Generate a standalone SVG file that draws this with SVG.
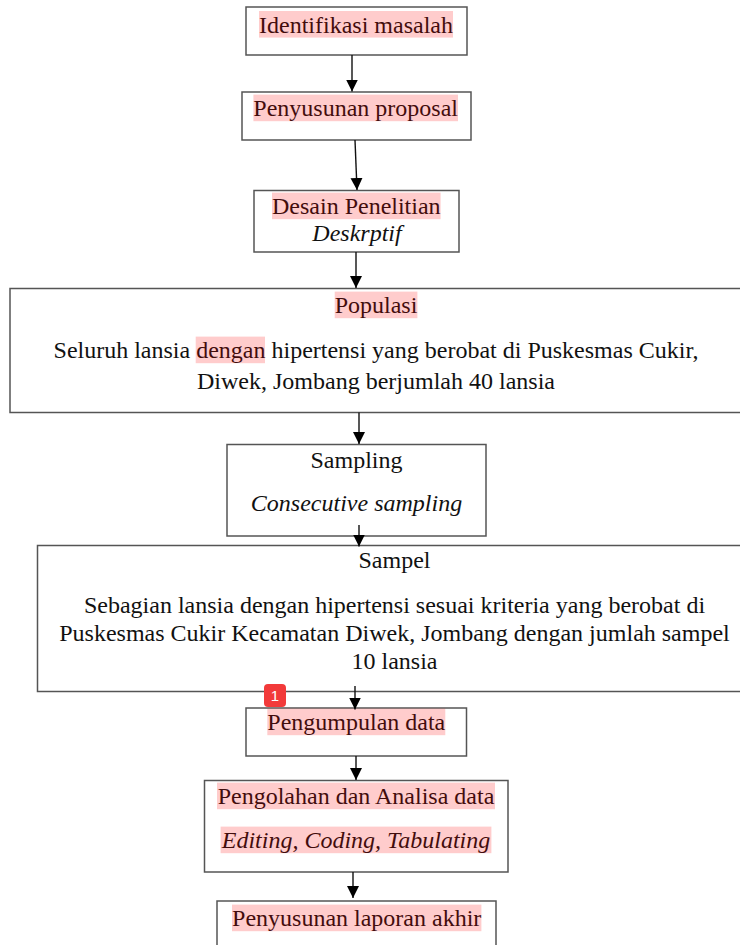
<svg xmlns="http://www.w3.org/2000/svg" width="740" height="945" viewBox="0 0 740 945">
<defs>
<marker id="ah" markerUnits="userSpaceOnUse" markerWidth="12" markerHeight="13" viewBox="0 0 12 13" refX="12" refY="6" orient="auto">
<path d="M0,0 L12,6 L0,12 Z" fill="#000"/>
</marker>
</defs>
<style>
.box{fill:#fff;stroke:#555;stroke-width:1.5}
.t{font-family:"Liberation Serif","Times New Roman",serif;font-size:24px;fill:#111;text-anchor:middle}
.i{font-style:italic}
.hl{fill:#ff0000;fill-opacity:0.2}
.c{stroke:#111;stroke-width:1.4;fill:none;marker-end:url(#ah)}
</style>
<rect width="740" height="945" fill="#fff"/>

<g id="n1">
<rect class="box" x="246" y="7" width="221" height="48"/>
<text class="t" x="356" y="32.5">Identifikasi masalah</text>
<rect class="hl" x="259" y="11" width="194" height="26.6"/>
</g>

<g id="n2">
<rect class="box" x="242" y="92" width="229" height="48"/>
<text class="t" x="355.7" y="116">Penyusunan proposal</text>
<rect class="hl" x="253.4" y="94.6" width="204.6" height="26.6"/>
</g>

<g id="n3">
<rect class="box" x="254" y="190.5" width="205" height="61.5"/>
<text class="t" x="356.3" y="214">Desain Penelitian</text>
<rect class="hl" x="272" y="192.6" width="168.6" height="26.6"/>
<text class="t i" x="357" y="241">Deskrptif</text>
</g>

<g id="n4">
<rect class="box" x="10" y="288.5" width="740" height="124"/>
<text class="t" x="376" y="313">Populasi</text>
<rect class="hl" x="334.7" y="291.6" width="82.7" height="26.6"/>
<text class="t" x="376" y="358">Seluruh lansia dengan hipertensi yang berobat di Puskesmas Cukir,</text>
<rect class="hl" x="195.7" y="336.6" width="69.3" height="26.6"/>
<text class="t" x="376" y="389">Diwek, Jombang berjumlah 40 lansia</text>
</g>

<g id="n5">
<rect class="box" x="227" y="444.5" width="259" height="91.5"/>
<text class="t" x="356.5" y="468">Sampling</text>
<text class="t i" x="356.5" y="511">Consecutive sampling</text>
</g>

<g id="n6">
<rect class="box" x="37.5" y="545.5" width="720" height="146"/>
<text class="t" x="394.5" y="568">Sampel</text>
<text class="t" x="394.5" y="613">Sebagian lansia dengan hipertensi sesuai kriteria yang berobat di</text>
<text class="t" x="394.5" y="641">Puskesmas Cukir Kecamatan Diwek, Jombang dengan jumlah sampel</text>
<text class="t" x="394.5" y="669">10 lansia</text>
</g>

<g id="n7">
<rect class="box" x="246" y="708" width="220.5" height="48"/>
<text class="t" x="356.3" y="730">Pengumpulan data</text>
<rect class="hl" x="267.3" y="708.6" width="178" height="26.6"/>
</g>

<g id="n8">
<rect class="box" x="204.5" y="780.5" width="303.5" height="91.5"/>
<text class="t" x="356" y="804">Pengolahan dan Analisa data</text>
<rect class="hl" x="217" y="782.6" width="278" height="26.6"/>
<text class="t i" x="356" y="848">Editing, Coding, Tabulating</text>
<rect class="hl" x="220.6" y="826.6" width="270.8" height="26.6"/>
</g>

<g id="n9">
<rect class="box" x="217" y="901" width="279" height="60"/>
<text class="t" x="356.7" y="926">Penyusunan laporan akhir</text>
<rect class="hl" x="232" y="904.6" width="249.4" height="26.6"/>
</g>

<g id="connectors">
<line class="c" x1="352" y1="55" x2="352" y2="91.5"/>
<line class="c" x1="355" y1="140" x2="357" y2="190"/>
<line class="c" x1="356" y1="252" x2="356" y2="288"/>
<line class="c" x1="359" y1="412.5" x2="359" y2="444"/>
<line class="c" x1="359" y1="525" x2="359" y2="546.5"/>
<line class="c" x1="355" y1="686" x2="355" y2="709.5"/>
<line class="c" x1="356" y1="756" x2="356" y2="780"/>
<line class="c" x1="353" y1="872" x2="353" y2="898"/>
</g>

<g id="badge">
<rect x="264" y="684" width="22" height="23" rx="4" fill="#f23a3a"/>
<text x="275" y="701" font-family="Liberation Sans, Arial, sans-serif" font-size="15" fill="#fff" text-anchor="middle">1</text>
</g>
</svg>
